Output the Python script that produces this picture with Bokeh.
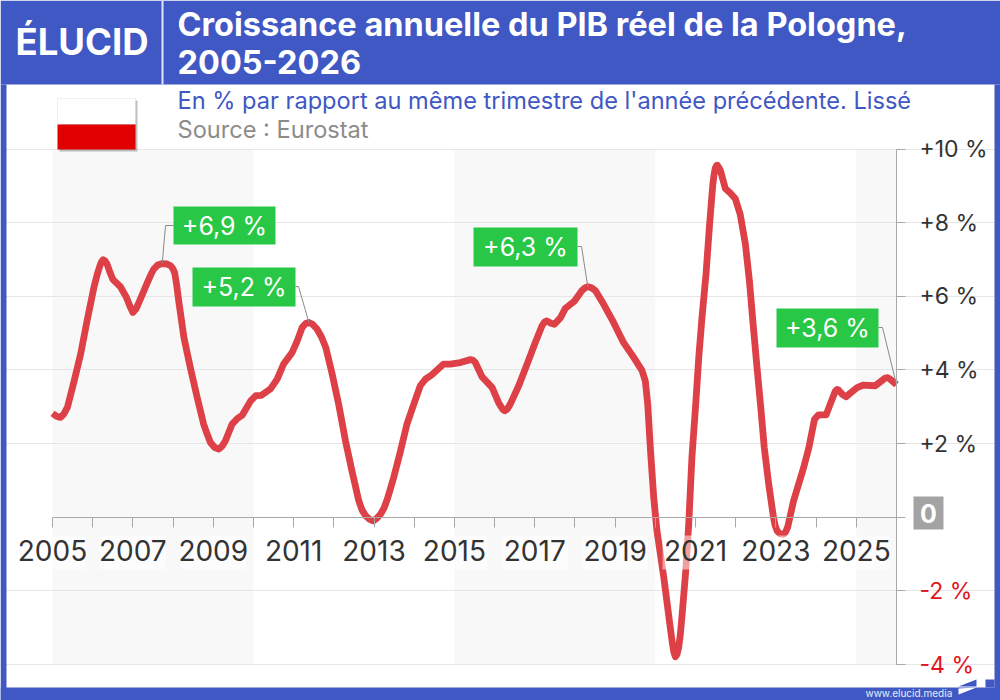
from bokeh.embed import file_html
from bokeh.resources import INLINE
from bokeh.plotting import figure
from bokeh.models import (BoxAnnotation, FixedTicker, Grid, Label, LinearAxis,
                          PolyAnnotation, Range1d)

# ---------- data ----------
dates = [2005.0, 2005.1, 2005.2, 2005.28, 2005.37, 2005.53, 2005.7, 2005.86, 2006.03, 2006.12,
         2006.18, 2006.22, 2006.26, 2006.31, 2006.36, 2006.43, 2006.5, 2006.69, 2006.84, 2006.93,
         2007.0, 2007.08, 2007.17, 2007.36, 2007.44, 2007.52, 2007.62, 2007.73, 2007.84, 2007.94,
         2007.99, 2008.04, 2008.09, 2008.14, 2008.27, 2008.43, 2008.6, 2008.76, 2008.85, 2008.93,
         2009.03, 2009.14, 2009.22, 2009.3, 2009.47, 2009.6, 2009.72, 2009.93, 2010.06, 2010.2,
         2010.42, 2010.59, 2010.75, 2010.96, 2011.09, 2011.21, 2011.3, 2011.38, 2011.47, 2011.58,
         2011.69, 2011.8, 2011.95, 2012.12, 2012.29, 2012.45, 2012.62, 2012.7, 2012.79, 2012.88,
         2012.98, 2013.07, 2013.16, 2013.25, 2013.33, 2013.49, 2013.66, 2013.82, 2013.99, 2014.15,
         2014.28, 2014.44, 2014.73, 2014.9, 2015.15, 2015.4, 2015.46, 2015.52, 2015.69, 2015.94,
         2016.1, 2016.2, 2016.25, 2016.31, 2016.39, 2016.6, 2016.81, 2017.01, 2017.18, 2017.24,
         2017.3, 2017.4, 2017.49, 2017.64, 2017.76, 2017.98, 2018.17, 2018.25, 2018.32, 2018.41,
         2018.51, 2018.71, 2018.96, 2019.21, 2019.46, 2019.67, 2019.75, 2019.81, 2019.88, 2019.96,
         2020.04, 2020.21, 2020.37, 2020.42, 2020.46, 2020.5, 2020.54, 2020.58, 2020.62, 2020.66,
         2020.75, 2020.83, 2020.91, 2021.01, 2021.08, 2021.16, 2021.26, 2021.35, 2021.43, 2021.46,
         2021.49, 2021.52, 2021.54, 2021.58, 2021.62, 2021.74, 2021.87, 2021.99, 2022.11, 2022.24,
         2022.34, 2022.44, 2022.53, 2022.63, 2022.71, 2022.82, 2022.94, 2022.98, 2023.03, 2023.1,
         2023.19, 2023.24, 2023.29, 2023.44, 2023.69, 2023.82, 2023.96, 2024.06, 2024.25, 2024.35,
         2024.48, 2024.52, 2024.56, 2024.66, 2024.75, 2024.85, 2025.02, 2025.18, 2025.47, 2025.6,
         2025.72, 2025.78, 2025.84, 2026.0]
growth = [2.82, 2.74, 2.71, 2.80, 2.98, 3.66, 4.43, 5.33, 6.24, 6.62,
          6.83, 6.94, 6.99, 6.96, 6.87, 6.65, 6.46, 6.26, 5.97, 5.72,
          5.56, 5.66, 5.88, 6.37, 6.57, 6.74, 6.85, 6.89, 6.88, 6.83,
          6.76, 6.64, 6.30, 5.88, 4.88, 4.06, 3.25, 2.53, 2.25, 2.03,
          1.90, 1.85, 1.93, 2.07, 2.53, 2.68, 2.77, 3.16, 3.30, 3.31,
          3.48, 3.75, 4.16, 4.47, 4.79, 5.15, 5.26, 5.29, 5.24, 5.11,
          4.90, 4.61, 3.93, 3.07, 2.07, 1.26, 0.45, 0.20, 0.04, -0.05,
          -0.10, -0.03, 0.08, 0.25, 0.49, 1.08, 1.80, 2.53, 3.07, 3.57,
          3.75, 3.87, 4.16, 4.16, 4.20, 4.28, 4.26, 4.20, 3.81, 3.52,
          3.11, 2.93, 2.89, 2.93, 3.07, 3.57, 4.16, 4.74, 5.20, 5.30,
          5.33, 5.27, 5.24, 5.42, 5.67, 5.86, 6.15, 6.23, 6.26, 6.23,
          6.15, 5.79, 5.29, 4.74, 4.34, 3.98, 3.70, 3.07, 1.80, 0.53,
          -0.37, -1.64, -2.99, -3.40, -3.67, -3.79, -3.72, -3.54, -3.20, -2.72,
          -1.54, -0.19, 1.62, 3.16, 4.34, 5.42, 6.60, 7.96, 9.04, 9.30,
          9.48, 9.55, 9.56, 9.50, 9.41, 8.93, 8.80, 8.65, 8.23, 7.42,
          6.42, 5.15, 4.06, 2.89, 1.89, 0.90, -0.01, -0.22, -0.37, -0.45,
          -0.46, -0.40, -0.28, 0.45, 1.35, 1.89, 2.66, 2.78, 2.78, 3.07,
          3.43, 3.47, 3.45, 3.33, 3.27, 3.37, 3.52, 3.59, 3.57, 3.68,
          3.78, 3.79, 3.75, 3.60]

x_major = [2005, 2007, 2009, 2011, 2013, 2015, 2017, 2019, 2021, 2023, 2025]
x_minor = [2006, 2008, 2010, 2012, 2014, 2016, 2018, 2020, 2022, 2024, 2026]
y_pos_ticks = [0, 2, 4, 6, 8, 10]
y_pos_labels = ["", "+2 %", "+4 %", "+6 %", "+8 %", "+10 %"]
y_neg_ticks = [-2, -4]
y_neg_labels = ["-2 %", "-4 %"]
band_starts = [2005, 2015, 2025]
band_ends = [2010, 2020, 2026]
callout_dates = [2007.73, 2011.38, 2018.32, 2026.0]
callout_values = [6.89, 5.29, 6.26, 3.60]
callout_texts = ["+6,9 %", "+5,2 %", "+6,3 %", "+3,6 %"]

title_lines = ["Croissance annuelle du PIB réel de la Pologne,", "2005-2026"]
subtitle = "En % par rapport au même trimestre de l'année précédente. Lissé"
source = "Source : Eurostat"

# ---------- layout, in pixels of the reference ----------
W, H = 1000, 700
FRAME_L, FRAME_R, FRAME_T, FRAME_B = 52, 896, 148.5, 664
BLUE = "#3f58c4"
RED = "#dd4147"
GREEN = "#28c846"
INK = "#333333"
NUM = "Inter"
# box left, right, top, bottom; elbow x, elbow y
callout_boxes = [(173, 275, 206, 244, 165, 225), (192, 295, 267, 306, 298, 286),
                 (473, 577, 227, 266, 581, 246), (776, 878, 308, 347, 882, 327)]


def X(px):
    return 2005 + (px - FRAME_L) * 21 / (FRAME_R - FRAME_L)


def Y(py):
    return 10 - (py - FRAME_T) * 14 / (FRAME_B - FRAME_T)


# the plot area fills the page, so that the ranges run past the chart proper
p = figure(width=W, height=H, output_backend="svg", toolbar_location=None,
           x_axis_type=None, y_axis_type=None,
           x_range=Range1d(X(0), X(W)), y_range=Range1d(Y(H), Y(0)),
           min_border=0, outline_line_color=None, background_fill_color="white",
           border_fill_color="white")
p.grid.visible = False


def box(l, r, t, b, color, alpha=1.0, line=None, level="annotation"):
    p.add_layout(BoxAnnotation(left=l, right=r, top=t, bottom=b,
                               left_units="canvas", right_units="canvas",
                               top_units="canvas", bottom_units="canvas",
                               fill_color=color, fill_alpha=alpha, line_color=line,
                               level=level, editable=False))


def text(x, y, s, size, color, font=NUM, style="normal", align="left"):
    p.add_layout(Label(x=x, y=y, x_units="canvas", y_units="canvas", text=s,
                       text_font=font, text_font_size=f"{size}px", text_font_style=style,
                       text_color=color, text_align=align, text_baseline="middle"))


def poly(xs, ys, color):
    p.add_layout(PolyAnnotation(xs=xs, ys=ys, xs_units="canvas", ys_units="canvas",
                                fill_color=color, fill_alpha=1, line_color=None, editable=False))


# grey year bands
p.quad(left=band_starts, right=band_ends, bottom=-4, top=10, fill_color="#f8f8f9",
       line_color=None, level="image")

# grid
p.add_layout(Grid(dimension=1, ticker=FixedTicker(ticks=[-4, -2, 2, 4, 6, 8, 10]),
                  bounds=(2005, 2026), grid_line_color="#e6e6e6", grid_line_width=1,
                  level="underlay"))

# series
p.line(dates, growth, line_color=RED, line_width=6.8, line_join="round", line_cap="butt")

# translucent patch behind each year label
p.rect(x=x_major, y=Y(552), width=66, height=34, width_units="screen", height_units="screen",
       fill_color="white", fill_alpha=0.5, line_color=None)

# leaders
for d, v, b in zip(callout_dates, callout_values, callout_boxes):
    side = b[0] if b[4] < b[0] else b[1]
    p.line([X(side), X(b[4]), d], [Y(b[5]), Y(b[5]), v], line_color="#8a8a8a", line_width=1)

# axes
xax = LinearAxis(fixed_location=0, bounds=(2005, 2026),
                 ticker=FixedTicker(ticks=x_major, minor_ticks=x_minor),
                 major_label_overrides={t: str(t) for t in x_major},
                 axis_line_color="#a8a8a8", major_tick_line_color="#a8a8a8",
                 minor_tick_line_color="#a8a8a8", major_tick_in=0, major_tick_out=10,
                 minor_tick_in=0, minor_tick_out=10, major_label_standoff=13,
                 major_label_text_font=NUM, major_label_text_font_size="28px",
                 major_label_text_color=INK)
p.add_layout(xax, "below")

common = dict(fixed_location=2026, major_tick_in=0, major_tick_out=9, minor_tick_line_color=None,
              major_tick_line_color="#a8a8a8", major_label_standoff=14,
              major_label_text_font=NUM, major_label_text_font_size="23px")
p.add_layout(LinearAxis(ticker=FixedTicker(ticks=y_pos_ticks), bounds=(-4, 10),
                        major_label_overrides=dict(zip(y_pos_ticks, y_pos_labels)),
                        axis_line_color="#a8a8a8", major_label_text_color=INK, **common), "right")
p.add_layout(LinearAxis(ticker=FixedTicker(ticks=y_neg_ticks), bounds=(-4, 10),
                        major_label_overrides=dict(zip(y_neg_ticks, y_neg_labels)),
                        axis_line_color=None, major_label_text_color="#e2141c", **common), "right")

# zero badge
box(913, 943, 496, 529, "#a3a3a3")
text(928, 513, "0", 25, "white", style="bold", align="center")

# callouts
for t, b in zip(callout_texts, callout_boxes):
    box(b[0], b[1], b[2], b[3], GREEN)
    text((b[0] + b[1]) / 2, (b[2] + b[3]) / 2, t, 25, "white", align="center")

# header and frame
box(0, 1000, 0, 84, BLUE)
box(0, 6, 84, 700, BLUE)
box(994, 1000, 84, 700, BLUE)
box(0, 1000, 687, 700, BLUE)
box(985, 994, 679, 687, BLUE)
box(161, 163, 0, 84, "#dfe4f6")
text(15, 41, "ÉLUCID", 36.5, "white", style="bold")
text(177, 24, title_lines[0], 32.5, "white", style="bold")
text(177, 61, title_lines[1], 32.5, "white", style="bold")
text(177, 100, subtitle, 23.6, BLUE)
text(177, 129, source, 23.6, "#8c8c8c")

# flag
box(59, 137, 100, 151, "#000000", alpha=0.25)
box(57, 135, 98, 124, "white", line="#cccccc")
box(57, 135, 124, 149, "#e00000")

# footer
text(865, 692, "www.elucid.media", 10, "#e8ecfa")
poly([958, 976, 976], [686, 679, 686], BLUE)
poly([958, 976, 958], [688, 687, 694], "white")

open("out.html", "w").write(file_html(p, INLINE))
